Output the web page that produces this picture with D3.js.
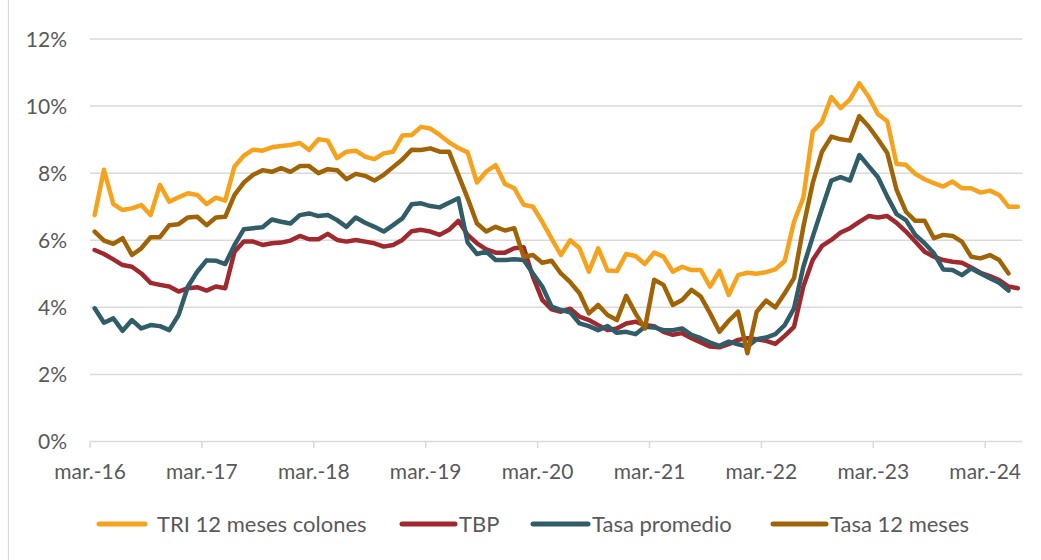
<!DOCTYPE html>
<html>
<head>
<meta charset="utf-8">
<script src="https://cdn.jsdelivr.net/npm/d3@7"></script>
<style>
  html, body { margin: 0; padding: 0; background: #ffffff; }
  svg { display: block; }
  text { font-family: Lato, "Open Sans", sans-serif; fill: #595959; }
</style>
</head>
<body>
<svg id="chart" width="1041" height="560"></svg>
<script>
// ---- DATA ----
const startMonth = new Date(2016, 2, 1); // mar-16
const nMonths = 100;                     // mar-16 .. jun-24
const tickLabels = ["mar.-16","mar.-17","mar.-18","mar.-19","mar.-20","mar.-21","mar.-22","mar.-23","mar.-24"];
const yTicks = [0, 2, 4, 6, 8, 10, 12];
const seriesNames = ["TRI 12 meses colones", "TBP", "Tasa promedio", "Tasa 12 meses"];

const tri12 = [6.75,8.1,7.08,6.9,6.95,7.05,6.75,7.65,7.15,7.28,7.4,7.35,
  7.08,7.27,7.18,8.2,8.52,8.7,8.67,8.77,8.81,8.84,8.9,8.69,
  9.01,8.97,8.45,8.64,8.67,8.49,8.42,8.59,8.64,9.12,9.14,9.38,
  9.33,9.14,8.92,8.75,8.62,7.72,8.05,8.24,7.68,7.55,7.06,7.0,
  6.55,6.05,5.56,6.0,5.76,5.06,5.76,5.1,5.08,5.59,5.53,5.29,
  5.63,5.51,5.06,5.21,5.11,5.11,4.62,5.09,4.37,4.96,5.03,5.0,
  5.05,5.13,5.38,6.55,7.27,9.24,9.53,10.27,9.94,10.2,10.68,10.28,
  9.76,9.55,8.27,8.25,7.98,7.82,7.7,7.6,7.75,7.55,7.55,7.42,
  7.48,7.35,7.0,7.0];

const tbp = [5.71,5.59,5.43,5.26,5.21,5.01,4.73,4.67,4.62,4.47,4.57,4.6,
  4.5,4.62,4.57,5.66,5.96,5.96,5.86,5.91,5.93,5.99,6.13,6.03,
  6.03,6.19,6.01,5.96,6.01,5.96,5.91,5.81,5.86,6.01,6.27,6.31,
  6.26,6.16,6.31,6.58,6.16,5.91,5.73,5.63,5.63,5.76,5.79,4.91,
  4.22,3.94,3.87,3.96,3.72,3.62,3.47,3.32,3.37,3.52,3.57,3.47,
  3.44,3.27,3.18,3.23,3.08,2.95,2.83,2.81,2.9,3.03,3.08,3.05,
  3.0,2.91,3.15,3.42,4.62,5.41,5.83,6.01,6.23,6.36,6.55,6.72,
  6.68,6.72,6.52,6.26,5.96,5.66,5.51,5.41,5.36,5.33,5.19,5.03,
  4.93,4.81,4.62,4.57];

const tasaPromedio = [3.97,3.54,3.67,3.3,3.62,3.37,3.47,3.44,3.32,3.77,4.62,5.06,
  5.4,5.39,5.29,5.86,6.33,6.36,6.39,6.62,6.55,6.5,6.75,6.8,
  6.72,6.75,6.6,6.4,6.68,6.52,6.4,6.26,6.45,6.65,7.07,7.1,
  7.02,6.98,7.12,7.25,5.93,5.59,5.66,5.41,5.41,5.43,5.41,5.01,
  4.62,4.02,3.92,3.85,3.52,3.44,3.32,3.44,3.24,3.27,3.2,3.42,
  3.4,3.32,3.32,3.37,3.18,3.08,2.95,2.85,2.98,2.9,2.83,3.05,
  3.1,3.2,3.47,3.97,5.21,6.1,6.95,7.78,7.88,7.78,8.54,8.21,
  7.88,7.3,6.78,6.6,6.16,5.91,5.61,5.13,5.11,4.96,5.16,5.01,
  4.87,4.73,4.5];

const tasa12 = [6.26,5.99,5.89,6.06,5.56,5.76,6.09,6.09,6.45,6.48,6.68,6.7,
  6.45,6.68,6.7,7.35,7.72,7.95,8.09,8.04,8.15,8.04,8.21,8.21,
  8.0,8.12,8.09,7.82,7.98,7.92,7.78,7.95,8.18,8.41,8.7,8.69,
  8.74,8.64,8.64,7.95,7.25,6.5,6.26,6.4,6.29,6.36,5.51,5.56,
  5.33,5.39,5.01,4.75,4.42,3.82,4.07,3.77,3.62,4.34,3.82,3.37,
  4.82,4.67,4.07,4.22,4.52,4.32,3.82,3.27,3.6,3.87,2.63,3.87,
  4.2,4.0,4.42,4.87,6.4,7.7,8.64,9.09,9.01,8.97,9.7,9.39,
  9.01,8.6,7.5,6.85,6.58,6.58,6.06,6.16,6.13,5.96,5.51,5.46,
  5.56,5.41,5.01];

const seriesValues = [tri12, tbp, tasaPromedio, tasa12];
const seriesColors = ["#F7A21C", "#A0292F", "#305D68", "#A06407"];

// ---- LAYOUT ----
const svg = d3.select("#chart");
svg.append("rect").attr("width", 1041).attr("height", 560).attr("fill", "#ffffff");
svg.append("line").attr("x1", 8.5).attr("x2", 8.5).attr("y1", 0).attr("y2", 560)
  .attr("stroke", "#d9d9d9").attr("stroke-width", 1.2);

const months = d3.range(nMonths).map(i => d3.timeMonth.offset(startMonth, i));
const x = d3.scaleBand().domain(months.map(d => +d)).range([90, 1022.5]).padding(0);
const y = d3.scaleLinear().domain([0, 12]).range([441.5, 39]);
const cx = i => x(+months[i]) + x.bandwidth() / 2;

// gridlines
svg.append("g").selectAll("line").data(yTicks).join("line")
  .attr("x1", 90).attr("x2", 1022.5)
  .attr("y1", d => y(d)).attr("y2", d => y(d))
  .attr("stroke", "#d9d9d9").attr("stroke-width", 1.5);

// y labels
svg.append("g").selectAll("text").data(yTicks).join("text")
  .attr("x", 67).attr("y", d => y(d)).attr("dy", "0.36em")
  .attr("text-anchor", "end").attr("font-size", 21)
  .text(d => d + "%");

// x ticks & labels
const tickIdx = tickLabels.map((t, k) => k * 12);
svg.append("g").selectAll("line").data(tickIdx).join("line")
  .attr("x1", i => x(+months[i])).attr("x2", i => x(+months[i]))
  .attr("y1", 441.5).attr("y2", 448)
  .attr("stroke", "#d9d9d9").attr("stroke-width", 1.5);
svg.append("g").selectAll("text").data(tickLabels).join("text")
  .attr("x", (t, k) => x(+months[tickIdx[k]]))
  .attr("y", 471).attr("dy", "0.36em")
  .attr("text-anchor", "middle").attr("font-size", 21)
  .text(t => t);

// lines
const line = d3.line().x((d, i) => cx(i)).y(d => y(d));
seriesValues.forEach((vals, s) => {
  svg.append("path").datum(vals)
    .attr("d", line)
    .attr("fill", "none")
    .attr("stroke", seriesColors[s])
    .attr("stroke-width", 4.5)
    .attr("stroke-linejoin", "round")
    .attr("stroke-linecap", "round");
});

// legend
const legendSwatch = [[99, 145], [402, 455], [533, 588], [773, 826]];
const legendText = [157, 459, 592, 830];
const lg = svg.append("g");
seriesNames.forEach((name, s) => {
  lg.append("line")
    .attr("x1", legendSwatch[s][0]).attr("x2", legendSwatch[s][1])
    .attr("y1", 524).attr("y2", 524)
    .attr("stroke", seriesColors[s]).attr("stroke-width", 5)
    .attr("stroke-linecap", "round");
  lg.append("text")
    .attr("x", legendText[s]).attr("y", 524).attr("dy", "0.36em")
    .attr("font-size", 22)
    .text(name);
});
</script>
</body>
</html>
